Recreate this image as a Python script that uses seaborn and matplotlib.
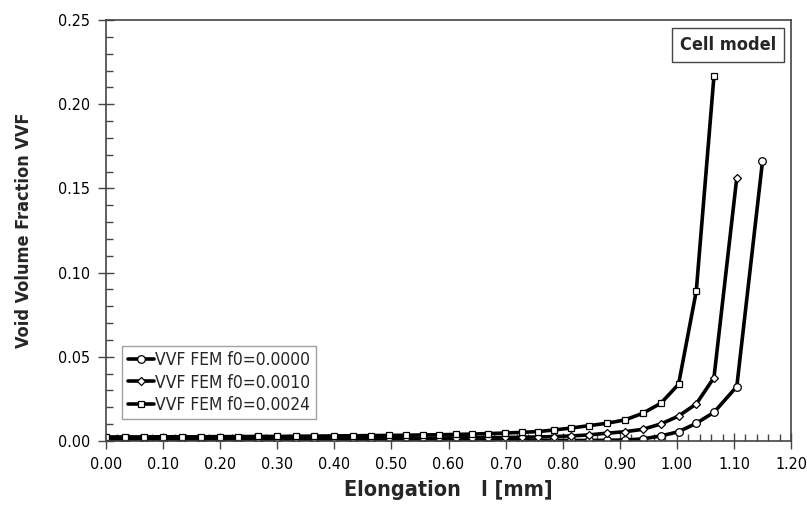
import matplotlib
matplotlib.use('Agg')
import matplotlib.pyplot as plt
from matplotlib.ticker import MultipleLocator, FormatStrFormatter
import seaborn as sns
import pandas as pd

# elongation steps (mm), shared by all three runs
elong = [0.000, 0.033, 0.066, 0.100, 0.133, 0.166, 0.199, 0.232, 0.266, 0.299,
         0.332, 0.365, 0.399, 0.433, 0.464, 0.495, 0.526, 0.556, 0.584, 0.613,
         0.641, 0.670, 0.699, 0.728, 0.757, 0.784, 0.815, 0.846, 0.877, 0.909,
         0.940, 0.972, 1.003, 1.034, 1.065, 1.105, 1.150]

vvf_f0000 = [0.0000, 0.0000, 0.0000, 0.0000, 0.0000, 0.0000, 0.0000, 0.0000, 0.0000, 0.0000,
             0.0000, 0.0000, 0.0000, 0.0000, 0.0001, 0.0001, 0.0001, 0.0001, 0.0001, 0.0001,
             0.0002, 0.0002, 0.0002, 0.0002, 0.0002, 0.0003, 0.0003, 0.0003, 0.0004, 0.0006,
             0.0012, 0.0030, 0.0055, 0.0105, 0.0170, 0.0323, 0.1660]

vvf_f0010 = [0.0010, 0.0010, 0.0010, 0.0010, 0.0011, 0.0011, 0.0011, 0.0011, 0.0012, 0.0012,
             0.0012, 0.0013, 0.0013, 0.0014, 0.0014, 0.0015, 0.0015, 0.0016, 0.0017, 0.0018,
             0.0019, 0.0020, 0.0021, 0.0022, 0.0024, 0.0026, 0.0030, 0.0036, 0.0046, 0.0055,
             0.0069, 0.0101, 0.0148, 0.0220, 0.0376, 0.1564]

vvf_f0024 = [0.0024, 0.0024, 0.0024, 0.0025, 0.0025, 0.0025, 0.0026, 0.0026, 0.0027, 0.0027,
             0.0028, 0.0029, 0.0030, 0.0031, 0.0032, 0.0033, 0.0034, 0.0036, 0.0037, 0.0039,
             0.0041, 0.0044, 0.0047, 0.0051, 0.0056, 0.0065, 0.0077, 0.0091, 0.0105, 0.0125,
             0.0164, 0.0224, 0.0337, 0.0890, 0.2167]

labels = ['VVF FEM f0=0.0000', 'VVF FEM f0=0.0010', 'VVF FEM f0=0.0024']
markers = ['o', 'D', 's']
msizes = [5.5, 4.5, 5]

sns.set_style('ticks')
plt.rcParams['font.family'] = ['DejaVu Sans']
plt.rcParams['font.stretch'] = 'condensed'

fig = plt.figure(figsize=(8.07, 5.13), dpi=100)
ax = fig.add_axes([0.1314, 0.1404, 0.8488, 0.8206])

for vals, lab, mk, ms in zip([vvf_f0000, vvf_f0010, vvf_f0024], labels, markers, msizes):
    df = pd.DataFrame({'x': elong[:len(vals)], 'y': vals})
    sns.lineplot(data=df, x='x', y='y', ax=ax, color='black', linewidth=2.6,
                 marker=mk, markersize=ms, markerfacecolor='white',
                 markeredgecolor='black', markeredgewidth=0.9, label=lab,
                 sort=False, estimator=None)

ax.set_xlim(0, 1.2)
ax.set_ylim(0, 0.25)
ax.xaxis.set_major_locator(MultipleLocator(0.1))
ax.xaxis.set_minor_locator(MultipleLocator(0.02))
ax.yaxis.set_major_locator(MultipleLocator(0.05))
ax.yaxis.set_minor_locator(MultipleLocator(0.01))
ax.xaxis.set_major_formatter(FormatStrFormatter('%.2f'))
ax.yaxis.set_major_formatter(FormatStrFormatter('%.2f'))
ax.tick_params(which='major', direction='inout', length=11, width=1, colors='#444444',
               labelcolor='black', labelsize=11.5, pad=6)
ax.tick_params(which='minor', direction='in', length=5, width=1, colors='#444444')

for s in ax.spines.values():
    s.set_visible(True)
    s.set_color('#444444')
    s.set_linewidth(1.2)

ax.set_xlabel('Elongation   l [mm]', fontsize=15.5, fontweight='bold', labelpad=6)
ax.set_ylabel('Void Volume Fraction VVF', fontsize=13, fontweight='bold', labelpad=18)

leg = ax.legend(loc='lower left', bbox_to_anchor=(0.024, 0.052), fontsize=12.5,
                frameon=True, fancybox=False, edgecolor='#888888', handlelength=1.5,
                handletextpad=0.1, borderpad=0.3, labelspacing=0.25, borderaxespad=0)
leg.get_frame().set_linewidth(1.0)

ax.text(0.978, 0.962, 'Cell model', transform=ax.transAxes, ha='right', va='top',
        fontsize=13, fontweight='semibold',
        bbox=dict(boxstyle='square,pad=0.45', facecolor='white', edgecolor='#444444', linewidth=1))

fig.savefig('out.png', dpi=100)
